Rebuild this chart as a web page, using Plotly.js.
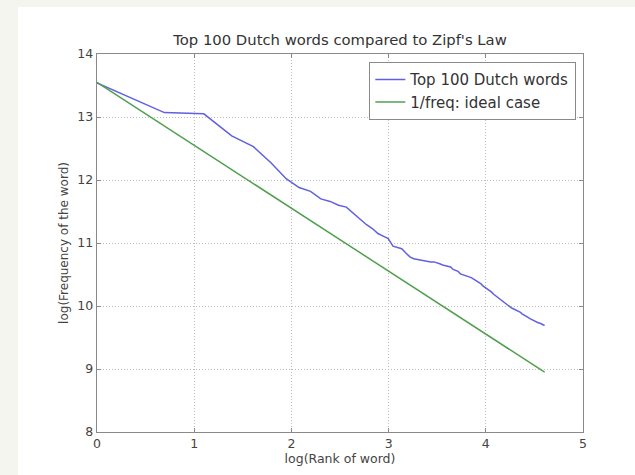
<!DOCTYPE html>
<html>
<head>
<meta charset="utf-8">
<script src="https://cdn.plot.ly/plotly-3.0.1.min.js"></script>
<style>html,body{margin:0;padding:0;background:#f3f5ee;}</style>
</head>
<body>
<div id="chart" style="width:635px;height:475px;"></div>
<script>
// log(rank) and log(frequency) for the top 100 Dutch words
const dutchLogRank = [0, 0.693, 1.099, 1.386, 1.609, 1.792, 1.946, 2.079, 2.197, 2.303, 2.398, 2.485, 2.565, 2.639, 2.708, 2.773, 2.833, 2.890, 2.944, 2.996, 3.045, 3.091, 3.135, 3.178, 3.219, 3.258, 3.296, 3.332, 3.367, 3.401, 3.434, 3.466, 3.497, 3.526, 3.555, 3.584, 3.611, 3.638, 3.664, 3.689, 3.714, 3.738, 3.761, 3.784, 3.807, 3.829, 3.850, 3.871, 3.892, 3.912, 3.932, 3.951, 3.970, 3.989, 4.007, 4.025, 4.043, 4.060, 4.078, 4.094, 4.111, 4.127, 4.143, 4.159, 4.174, 4.190, 4.205, 4.220, 4.234, 4.248, 4.263, 4.277, 4.290, 4.304, 4.317, 4.331, 4.344, 4.357, 4.369, 4.382, 4.394, 4.407, 4.419, 4.431, 4.443, 4.454, 4.466, 4.477, 4.489, 4.500, 4.511, 4.522, 4.533, 4.543, 4.554, 4.564, 4.575, 4.585, 4.595, 4.605];
const dutchLogFreq = [13.54, 13.07, 13.05, 12.70, 12.53, 12.27, 12.02, 11.88, 11.82, 11.70, 11.66, 11.60, 11.57, 11.47, 11.38, 11.29, 11.23, 11.15, 11.11, 11.07, 10.95, 10.93, 10.91, 10.84, 10.78, 10.75, 10.74, 10.72, 10.71, 10.71, 10.70, 10.70, 10.69, 10.67, 10.65, 10.64, 10.63, 10.62, 10.58, 10.56, 10.55, 10.51, 10.50, 10.49, 10.48, 10.47, 10.45, 10.43, 10.41, 10.39, 10.37, 10.35, 10.32, 10.30, 10.28, 10.27, 10.25, 10.22, 10.19, 10.17, 10.15, 10.14, 10.12, 10.10, 10.08, 10.06, 10.04, 10.02, 10.00, 9.98, 9.97, 9.96, 9.95, 9.95, 9.94, 9.93, 9.91, 9.90, 9.88, 9.87, 9.86, 9.85, 9.83, 9.82, 9.81, 9.80, 9.79, 9.78, 9.77, 9.77, 9.76, 9.75, 9.74, 9.73, 9.73, 9.72, 9.71, 9.70, 9.70, 9.69];
// ideal 1/freq line endpoints
const idealLogRank = [0, 4.605];
const idealLogFreq = [13.55, 8.95];

const seriesNames = ["Top 100 Dutch words", "1/freq: ideal case"];
const xTicks = [0, 1, 2, 3, 4, 5];
const yTicks = [8, 9, 10, 11, 12, 13, 14];

const font = "DejaVu Sans, sans-serif";

const traces = [
  {x: dutchLogRank, y: dutchLogFreq, type: "scatter", mode: "lines", name: seriesNames[0],
   line: {color: "#6060e0", width: 1.5}},
  {x: idealLogRank, y: idealLogFreq, type: "scatter", mode: "lines", name: seriesNames[1],
   line: {color: "#50a050", width: 1.5}}
];

const axisCommon = {
  showline: true, linecolor: "#8a8a8a", linewidth: 1.3, mirror: "allticks",
  ticks: "inside", ticklen: 4, tickcolor: "#8a8a8a",
  showgrid: true, gridcolor: "#bdbdbd", griddash: "1px,2px", gridwidth: 1,
  zeroline: false, tickfont: {family: font, size: 12.5, color: "#444"}
};

const layout = {
  width: 635, height: 475,
  paper_bgcolor: "#f3f5ee", plot_bgcolor: "#ffffff",
  margin: {l: 97, r: 52, t: 54, b: 43},
  title: {text: "Top 100 Dutch words compared to Zipf's Law", font: {family: font, size: 14.8, color: "#333"},
          x: 0.5, xref: "paper", y: 1, yref: "paper", yanchor: "bottom", pad: {b: 9}},
  xaxis: Object.assign({}, axisCommon, {range: [0, 5], tickvals: xTicks, ticktext: xTicks.map(String),
    title: {text: "log(Rank of word)", font: {family: font, size: 12.5, color: "#444"}, standoff: 2}}),
  yaxis: Object.assign({}, axisCommon, {range: [8, 14], tickvals: yTicks, ticktext: yTicks.map(String),
    title: {text: "log(Frequency of the word)", font: {family: font, size: 12, color: "#444"}, standoff: 6}}),
  legend: {x: 0.9856, y: 0.9788, xanchor: "right", yanchor: "top",
    bgcolor: "#ffffff", bordercolor: "#8a8a8a", borderwidth: 1.3,
    font: {family: font, size: 15, color: "#333"}, tracegroupgap: 0},
  showlegend: true,
  shapes: [{type: "rect", xref: "paper", yref: "paper", layer: "below",
    x0: (18 - 97) / 486, x1: (635 - 97) / 486, y0: (432 - 475) / 378, y1: (432 - 7) / 378,
    fillcolor: "#ffffff", line: {width: 0}}]
};

Plotly.newPlot("chart", traces, layout, {displayModeBar: false, staticPlot: true});
</script>
</body>
</html>
